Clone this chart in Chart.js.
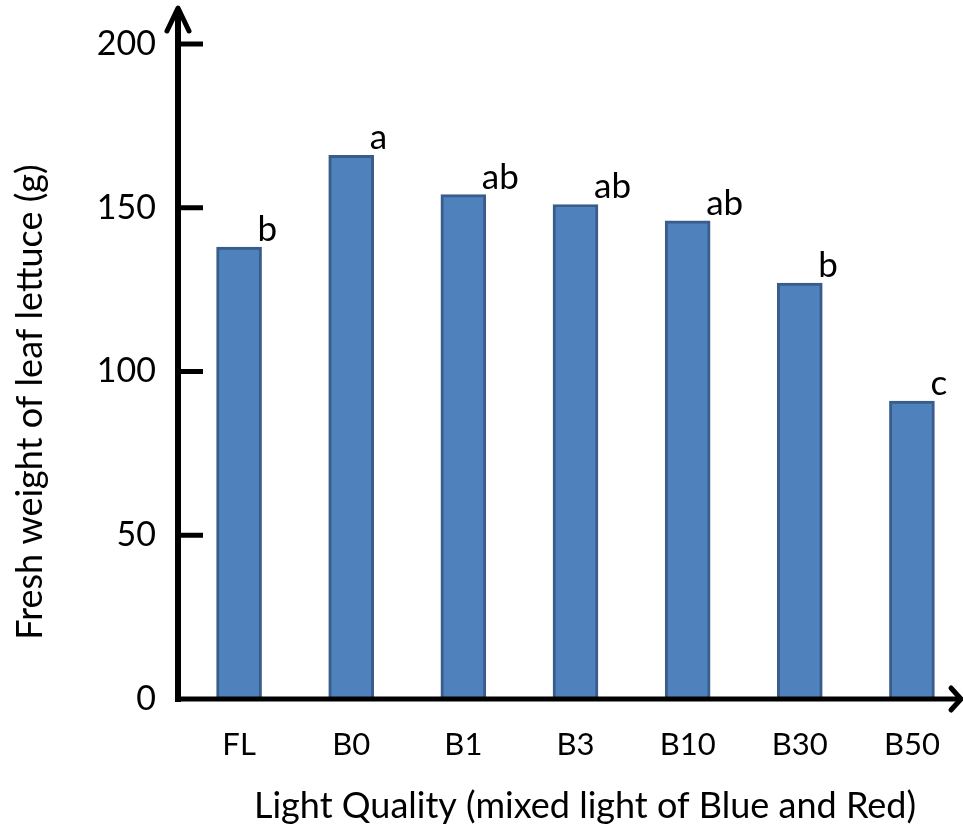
<!DOCTYPE html>
<html>
<head>
<meta charset="utf-8">
<script src="https://cdn.jsdelivr.net/npm/chart.js@4"></script>
<style>
  html, body { margin: 0; padding: 0; background: #fff; overflow: hidden; }
  #wrap { width: 963px; height: 826px; overflow: hidden; }
</style>
</head>
<body>
<div id="wrap"><canvas id="chart" width="968" height="826"></canvas></div>
<script>
// Fresh weight of leaf lettuce under different light treatments.
var categories = ["FL", "B0", "B1", "B3", "B10", "B30", "B50"];
var freshWeight = [138, 166, 154, 151, 146, 127, 91];
var letters = ["b", "a", "ab", "ab", "ab", "b", "c"];
var yTickValues = [0, 50, 100, 150, 200];

var xTitle = "Light Quality (mixed light of Blue and Red)";
var yTitle = "Fresh weight of leaf lettuce (g)";

var fontFamily = 'Lato, "Open Sans", sans-serif';

// Axes with arrowheads, inward tick marks, labels and significance letters
var axesPlugin = {
  id: "arrowAxes",
  afterDatasetsDraw: function (chart) {
    var ctx = chart.ctx;
    var xs = chart.scales.x;
    var ys = chart.scales.y;
    var x0 = 178;
    var y0 = ys.getPixelForValue(0);

    ctx.save();
    ctx.strokeStyle = "#000";
    ctx.fillStyle = "#000";
    ctx.lineCap = "butt";

    // axis lines
    ctx.lineWidth = 6;
    ctx.beginPath();
    ctx.moveTo(x0, y0 + 3);
    ctx.lineTo(x0, 9);
    ctx.stroke();
    ctx.lineWidth = 5;
    ctx.beginPath();
    ctx.moveTo(x0 - 3, y0);
    ctx.lineTo(961, y0);
    ctx.stroke();

    // arrowheads
    ctx.lineWidth = 5;
    ctx.lineCap = "round";
    ctx.lineJoin = "round";
    ctx.beginPath();
    ctx.moveTo(167, 31);
    ctx.lineTo(x0, 8);
    ctx.lineTo(189, 31);
    ctx.stroke();
    ctx.beginPath();
    ctx.moveTo(951, y0 - 11);
    ctx.lineTo(961, y0);
    ctx.lineTo(951, y0 + 11);
    ctx.stroke();

    // y ticks: marks point into the plot
    ctx.lineCap = "butt";
    ctx.lineWidth = 5;
    ctx.font = "34px " + fontFamily;
    ctx.textAlign = "right";
    ctx.textBaseline = "middle";
    yTickValues.forEach(function (v) {
      var py = ys.getPixelForValue(v);
      if (v !== 0) {
        ctx.beginPath();
        ctx.moveTo(x0, py);
        ctx.lineTo(203, py);
        ctx.stroke();
      }
      ctx.fillText(String(v), 156, py);
    });

    // category labels
    ctx.font = "31px " + fontFamily;
    ctx.textAlign = "center";
    categories.forEach(function (c, i) {
      ctx.fillText(c, xs.getPixelForValue(i), y0 + 46);
    });

    // significance letters at the top right of each bar
    ctx.font = "35px " + fontFamily;
    ctx.textAlign = "left";
    ctx.textBaseline = "alphabetic";
    chart.getDatasetMeta(0).data.forEach(function (bar, i) {
      ctx.fillText(letters[i], bar.x + bar.width / 2 - 4, bar.y - 6);
    });

    // axis titles
    ctx.textAlign = "center";
    ctx.textBaseline = "middle";
    ctx.font = "36px " + fontFamily;
    ctx.fillText(xTitle, 585, 806);
    ctx.save();
    ctx.translate(30, 402);
    ctx.rotate(-Math.PI / 2);
    ctx.fillText(yTitle, 0, 0);
    ctx.restore();

    ctx.restore();
  },
};

new Chart(document.getElementById("chart"), {
  type: "bar",
  data: {
    labels: categories,
    datasets: [{
      label: "Fresh weight",
      data: freshWeight,
      backgroundColor: "#4F81BD",
      borderColor: "#385D8A",
      borderWidth: 3,
      borderSkipped: "bottom",
      barThickness: 45,
    }],
  },
  options: {
    responsive: false,
    animation: false,
    layout: { padding: { left: 183, top: 44, right: 0, bottom: 127 } },
    plugins: {
      legend: { display: false },
      tooltip: { enabled: false },
    },
    scales: {
      x: { display: false, offset: true },
      y: { display: false, min: 0, max: 200 },
    },
  },
  plugins: [axesPlugin],
});
</script>
</body>
</html>
